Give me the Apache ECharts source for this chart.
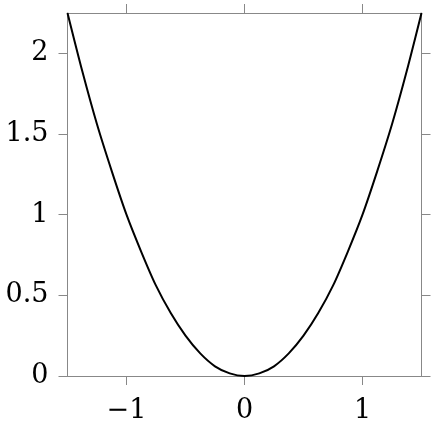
<!DOCTYPE html>
<html>
<head>
<meta charset="utf-8">
<script src="https://cdn.jsdelivr.net/npm/echarts@6/dist/echarts.min.js"></script>
<style>
html, body { margin: 0; padding: 0; background: #fff; }
#chart { width: 436px; height: 424px; }
</style>
</head>
<body>
<div id="chart"></div>
<script>
var xs = [-1.5, -1.375, -1.25, -1.125, -1, -0.875, -0.75, -0.625, -0.5, -0.375, -0.25, -0.125, 0,
          0.125, 0.25, 0.375, 0.5, 0.625, 0.75, 0.875, 1, 1.125, 1.25, 1.375, 1.5];
var ys = [2.25, 1.89, 1.56, 1.27, 1, 0.77, 0.56, 0.39, 0.25, 0.14, 0.06, 0.016, 0,
          0.016, 0.06, 0.14, 0.25, 0.39, 0.56, 0.77, 1, 1.27, 1.56, 1.89, 2.25];
var xTicks = [-1, 0, 1];
var yTicks = [0, 0.5, 1, 1.5, 2];

var axisColor = '#888888';
var font = '"DejaVu Serif", "Liberation Serif", serif';

function fmt(v) {
    if (v < 0) return '\u2212' + (-v);
    return String(v);
}

function xAxisDef(pos, showLabels) {
    return {
        type: 'value', position: pos, min: -1.5, max: 1.5,
        interval: 0.5,
        axisLine: { show: true, onZero: false, lineStyle: { color: axisColor, width: 1 } },
        axisTick: {
            show: true, length: 9, inside: false, lineStyle: { color: axisColor },
            customValues: xTicks
        },
        axisLabel: {
            show: showLabels, customValues: xTicks, formatter: fmt,
            color: '#000', fontFamily: font, fontSize: 27, margin: 21
        },
        splitLine: { show: false }
    };
}

function yAxisDef(pos, showLabels) {
    return {
        type: 'value', position: pos, min: 0, max: 2.25,
        axisLine: { show: true, onZero: false, lineStyle: { color: axisColor, width: 1 } },
        axisTick: {
            show: true, length: 9, inside: false, lineStyle: { color: axisColor },
            customValues: yTicks
        },
        axisLabel: {
            show: showLabels, customValues: yTicks, formatter: fmt,
            color: '#000', fontFamily: font, fontSize: 27, margin: 19
        },
        splitLine: { show: false }
    };
}

var chart = echarts.init(document.getElementById('chart'));
chart.setOption({
    animation: false,
    backgroundColor: '#fff',
    grid: { left: 67.5, right: 14.5, top: 13, bottom: 46.5, containLabel: false },
    xAxis: [xAxisDef('bottom', true), xAxisDef('top', false)],
    yAxis: [yAxisDef('left', true), yAxisDef('right', false)],
    series: [{
        type: 'line',
        data: xs.map(function(x, i) { return [x, ys[i]]; }),
        showSymbol: false,
        smooth: 0.3,
        clip: true,
        lineStyle: { color: '#000', width: 2 }
    }]
});
</script>
</body>
</html>
